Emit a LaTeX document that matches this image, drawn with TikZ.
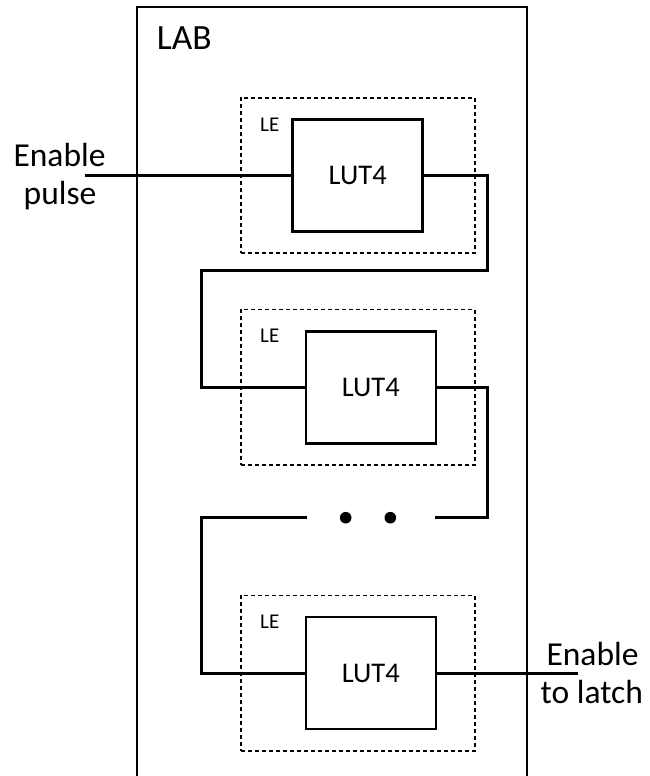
\documentclass[tikz,border=0pt]{standalone}
\usepackage{fontspec}
\setmainfont{Carlito}
\begin{document}
\begin{tikzpicture}[x=1pt,y=-1pt,
  wire/.style={line width=3pt},
  labbox/.style={line width=2pt},
  lut/.style={draw,line width=2.5pt,minimum width=130pt,minimum height=112pt,inner sep=0pt,font=\fontsize{28.5}{34}\selectfont},
  lebox/.style={draw,line width=1.8pt,dash pattern=on 4pt off 3pt,minimum width=234pt,minimum height=155.5pt,inner sep=0pt},
  letxt/.style={anchor=base west,inner sep=0pt,font=\fontsize{21}{25}\selectfont},
  big/.style={anchor=base,inner sep=0pt,font=\fontsize{33.5}{40}\selectfont},
  dot/.style={circle,fill,inner sep=0pt,minimum size=11.6pt}]
\useasboundingbox (0,0) rectangle (650,776);
\clip (0,0) rectangle (650,776);
% LAB
\draw[labbox] (137,790) -- (137,7) -- (526.5,7) -- (526.5,790);
\node[anchor=base west,inner sep=0pt,font=\fontsize{35.5}{42}\selectfont] (labtxt) at (156.7,50) {LAB};
% LE boxes
\node[lebox] (le1) at (357.8,175.5) {};
\node[lebox] (le2) at (357.8,387.2) {};
\node[lebox] (le3) at (357.8,673.2) {};
\node[letxt] (let1) at (260,131.5) {LE};
\node[letxt] (let2) at (260,342.7) {LE};
\node[letxt] (let3) at (260,628.3) {LE};
% LUTs
\node[lut] (lut1) at (357.7,175.6) {LUT4};
\node[lut] (lut2) at (370.8,387.4) {LUT4};
\node[lut] (lut3) at (370.8,673.2) {LUT4};
% coordinates
\coordinate (in) at (85,175.6);
\coordinate (t1) at (487.7,270.7);
\coordinate (t2) at (201.7,270.7);
\coordinate (t3) at (487.7,517.7);
\coordinate (g1) at (435,517.7);
\coordinate (g2) at (306.7,517.7);
\coordinate (t4) at (201.7,517.7);
\coordinate (out) at (578.3,673.2);
% wires
\draw[wire] (in) -- (lut1.west);
\draw[wire] (lut1.east) -| (t1) -- (t2) |- (lut2.west);
\draw[wire] (lut2.east) -| (t3) -- (g1);
\draw[wire] (g2) -- (t4) |- (lut3.west);
\draw[wire] (lut3.east) -- (out);
\node[dot] (d1) at (345.7,517.7) {};
\node[dot] (d2) at (390.3,517.7) {};
% labels
\node[big] (en1) at (59.5,166) {Enable};
\node[big] (en2) at (60,204) {pulse};
\node[big] (ex1) at (592.5,665) {Enable};
\node[big] (ex2) at (591.8,703) {to latch};
\end{tikzpicture}
\end{document}
